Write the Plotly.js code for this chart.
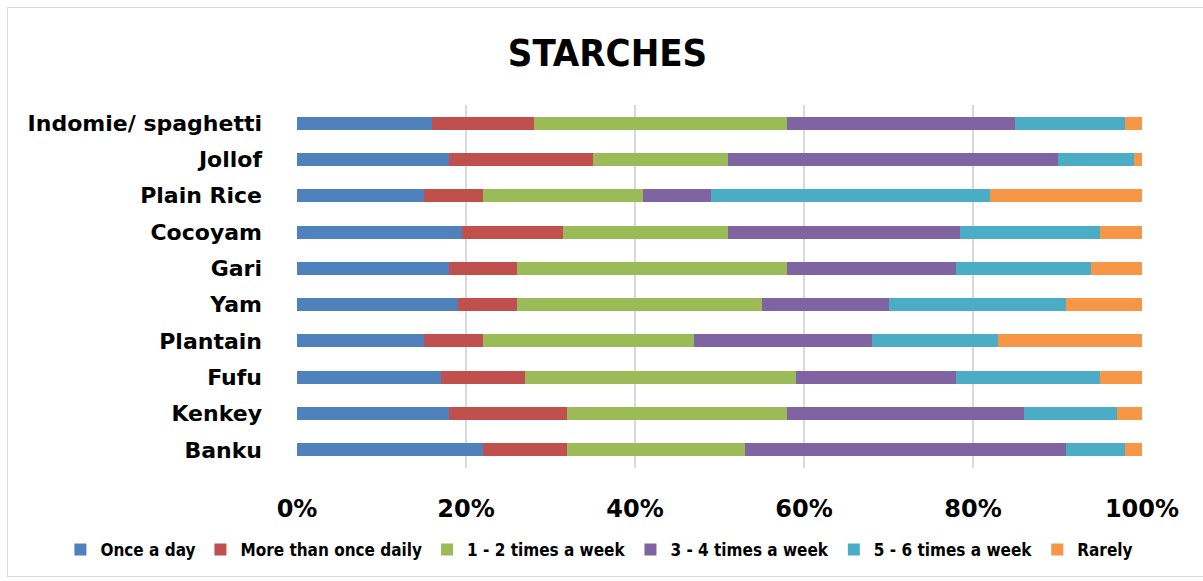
<!DOCTYPE html>
<html>
<head>
<meta charset="utf-8">
<script src="https://cdn.plot.ly/plotly-3.0.1.min.js"></script>
<style>
  html, body { margin: 0; padding: 0; background: #ffffff; }
  #wrap { position: relative; width: 1203px; height: 581px; }
  #chart { width: 1203px; height: 581px; }
  #frame { position: absolute; left: 7px; top: 7px; right: -2px; bottom: 4px;
           border: 1.5px solid #d9d9d9; pointer-events: none; }
</style>
</head>
<body>
<div id="wrap">
  <div id="chart"></div>
  <div id="frame"></div>
</div>
<script>
// Foods, listed top to bottom
const foods = ["Indomie/ spaghetti", "Jollof", "Plain Rice", "Cocoyam", "Gari",
               "Yam", "Plantain", "Fufu", "Kenkey", "Banku"];

// Share of respondents (%) per frequency, same order as foods
const onceADay          = [16, 18, 15, 19.5, 18, 19, 15, 17, 18, 22];
const moreThanOnceDaily = [12, 17,  7, 12,    8,  7,  7, 10, 14, 10];
const oneToTwoWeek      = [30, 16, 19, 19.5, 32, 29, 25, 32, 26, 21];
const threeToFourWeek   = [27, 39,  8, 27.5, 20, 15, 21, 19, 28, 38];
const fiveToSixWeek     = [13,  9, 33, 16.5, 16, 21, 15, 17, 11,  7];
const rarely            = [ 2,  1, 18,  5,    6,  9, 17,  5,  3,  2];

const seriesNames = ["Once a day", "More than once daily", "1 - 2 times a week",
                     "3 - 4 times a week", "5 - 6 times a week", "Rarely"];
const seriesValues = [onceADay, moreThanOnceDaily, oneToTwoWeek,
                      threeToFourWeek, fiveToSixWeek, rarely];
const seriesColors = ["#4f81bd", "#c0504d", "#9bbb59", "#8064a2", "#4bacc6", "#f79646"];

const xTickVals = [0, 20, 40, 60, 80, 100];
const xTickText = ["0%", "20%", "40%", "60%", "80%", "100%"];

const FONT_NARROW = '"DejaVu Sans Condensed", "DejaVu Sans", Verdana, sans-serif';
const FONT_WIDE = '"DejaVu Sans", Verdana, sans-serif';

const traces = seriesNames.map((name, i) => ({
  type: "bar",
  orientation: "h",
  name: name,
  y: foods,
  x: seriesValues[i],
  marker: { color: seriesColors[i], line: { width: 0 } },
  hovertemplate: "%{y}: %{x}%<extra>" + name + "</extra>"
}));

const layout = {
  width: 1203,
  height: 581,
  paper_bgcolor: "#ffffff",
  plot_bgcolor: "#ffffff",
  margin: { l: 297, r: 61, t: 105, b: 113 },
  barmode: "stack",
  bargap: 0.64,
  font: { family: FONT_NARROW, color: "#000000" },
  title: {
    text: "<b>STARCHES</b>",
    font: { family: FONT_NARROW, size: 38, color: "#000000" },
    xref: "container", x: 0.505, xanchor: "center",
    yref: "container", y: 0.91, yanchor: "middle"
  },
  xaxis: {
    range: [0, 100],
    tickvals: xTickVals,
    ticktext: xTickText,
    ticks: "",
    ticklabelstandoff: 24,
    tickfont: { family: FONT_WIDE, size: 24, weight: "bold", color: "#000000" },
    showgrid: true,
    gridcolor: "#d9d9d9",
    gridwidth: 2,
    zeroline: false,
    showline: false,
    fixedrange: true
  },
  yaxis: {
    type: "category",
    autorange: "reversed",
    ticks: "",
    ticklabelstandoff: 34,
    tickfont: { family: FONT_WIDE, size: 22, weight: "bold", color: "#000000" },
    showgrid: false,
    zeroline: false,
    showline: false,
    fixedrange: true
  },
  showlegend: true,
  legend: {
    orientation: "h",
    traceorder: "normal",
    xref: "paper", x: -0.28, xanchor: "left",
    yref: "paper", y: -0.226, yanchor: "middle",
    font: { family: FONT_NARROW, size: 17, weight: "bold", color: "#000000" },
    itemwidth: 30,
    bgcolor: "rgba(0,0,0,0)"
  }
};

Plotly.newPlot("chart", traces, layout, { displayModeBar: false, staticPlot: true });
</script>
</body>
</html>
